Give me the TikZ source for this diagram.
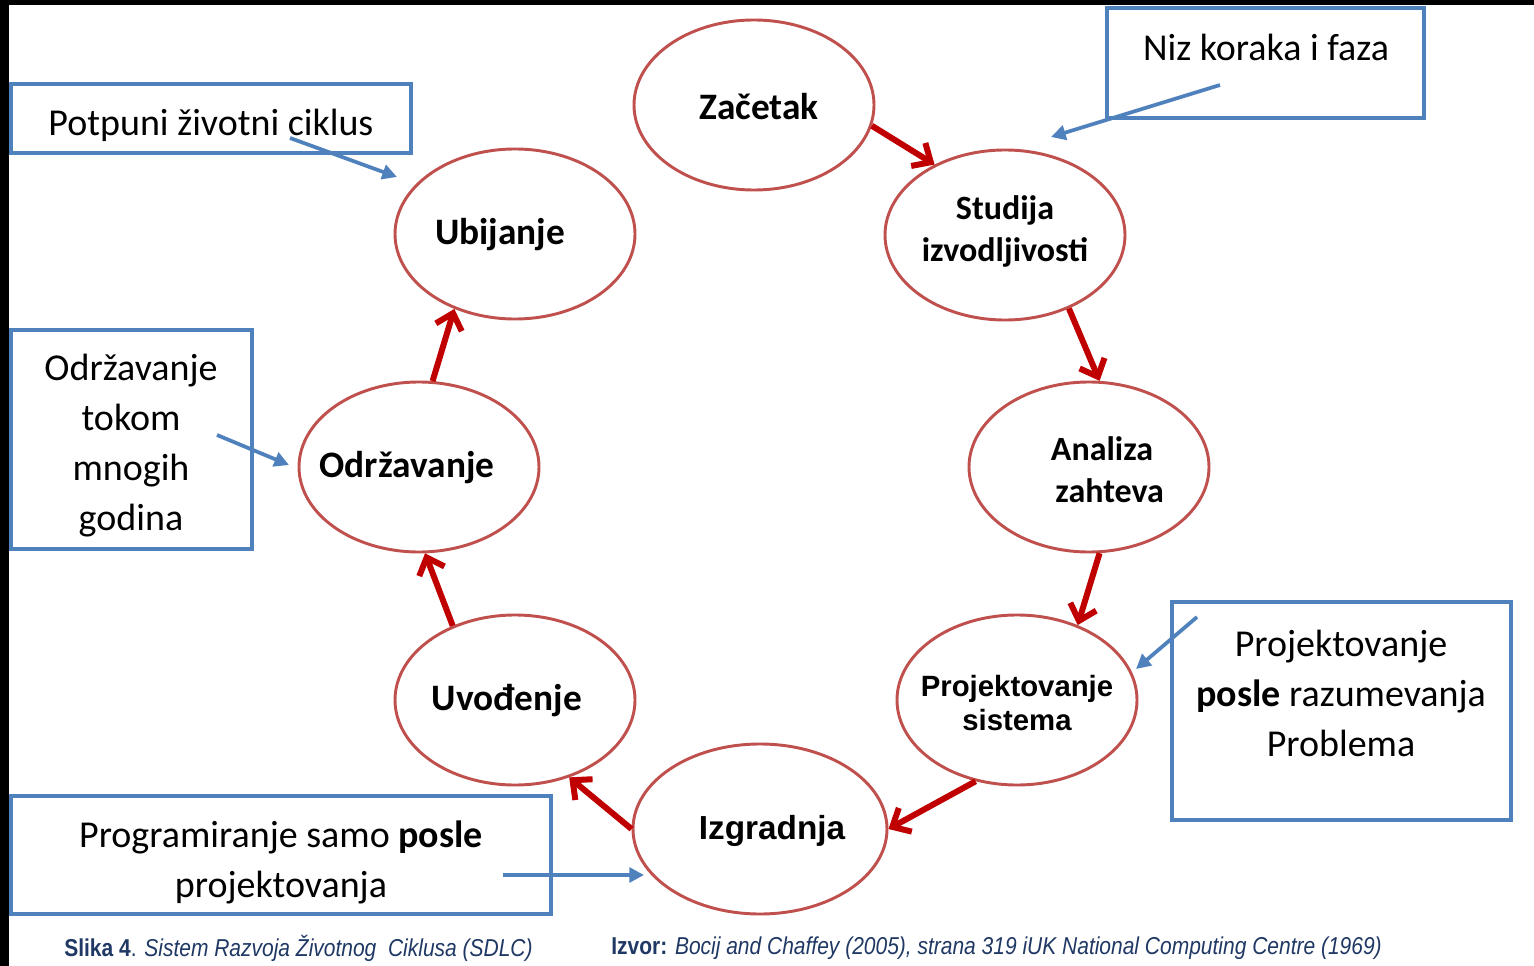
\documentclass[tikz,border=0pt]{standalone}
\usepackage{fontspec}
\setmainfont{Carlito}
\newfontfamily\arialfont{Liberation Sans}
\newfontfamily\capfont[FakeStretch=0.86]{Liberation Sans}
\usetikzlibrary{arrows.meta,shapes.geometric}
\definecolor{ellred}{HTML}{C0504D}
\definecolor{arrred}{HTML}{C00000}
\definecolor{boxblue}{HTML}{4F81BD}
\definecolor{capblue}{RGB}{31,56,100}
\begin{document}
\begin{tikzpicture}[x=0.75pt,y=-0.75pt,
  ell/.style={ellipse, draw=ellred, line width=2.2pt, fill=white, inner sep=0pt,
              minimum width=180pt, minimum height=127.5pt},
  etxt/.style={font=\fontsize{28}{30}\selectfont\bfseries, align=center, inner sep=0pt},
  etxttwo/.style={font=\fontsize{25.5}{31.5}\selectfont\bfseries, align=center, inner sep=0pt},
  atxt/.style={font=\arialfont\fontsize{22}{26}\selectfont\bfseries, align=center, inner sep=0pt},
  box/.style={draw=boxblue, line width=3pt, inner sep=0pt},
  btxt/.style={font=\fontsize{28.5}{37.5}\selectfont, align=center, inner sep=0pt},
  flow/.style={draw=arrred, line width=4.5pt, -{Straight Barb[angle=85:15pt]}},
  note/.style={draw=boxblue, line width=2.8pt, -{Triangle[length=11pt,width=11pt]}},
  captxt/.style={font=\capfont\fontsize{18.3}{20}\selectfont, text=capblue, inner sep=0pt, anchor=west}
]
\useasboundingbox (0,0) rectangle (1534,966);
\fill[white] (0,0) rectangle (1534,966);
\fill[black] (0,0) rectangle (9,966);
\fill[black] (0,0) rectangle (1534,5);

% blue boxes
\node[box, minimum width=300pt, minimum height=51.75pt] (b1) at (211,118.5) {};
\node[box, minimum width=237.75pt, minimum height=82.5pt] (b2) at (1265.5,63) {};
\node[box, minimum width=180.75pt, minimum height=164.25pt] (b3) at (131.5,439.5) {};
\node[box, minimum width=254.25pt, minimum height=163.5pt] (b4) at (1341.5,711) {};
\node[box, minimum width=405pt, minimum height=88.5pt] (b5) at (281,855) {};

\node[btxt] (t1) at (211,125) {Potpuni životni ciklus};
\node[btxt] (t2) at (1266,47) {Niz koraka i faza};
\node[btxt] (t3) at (131,446) {Održavanje\\tokom\\mnogih\\godina};
\node[btxt] (t4) at (1341,693) {Projektovanje\\\textbf{posle} razumevanja\\Problema};
\node[btxt] (t5) at (281,862) {Programiranje samo \textbf{posle}\\projektovanja};

% ellipses
\node[ell] (zac) at (754,105) {};
\node[ell] (stu) at (1005,235) {};
\node[ell] (ana) at (1089,467) {};
\node[ell] (pro) at (1017,700) {};
\node[ell, minimum width=190.5pt] (izg) at (760,829) {};
\node[ell] (uvo) at (515,700) {};
\node[ell] (odr) at (419,467) {};
\node[ell] (ubi) at (515,234) {};

\node[etxt] (lzac) at (759,107) {Začetak};
\node[etxttwo] (lstu) at (1005,231) {Studija\\izvodljivosti};
\node[etxttwo] (lana) at (1102,470) {Analiza\\\ \ zahteva};
\node[atxt] (lpro) at (1017,703) {Projektovanje\\sistema};
\node[atxt, font=\arialfont\fontsize{25}{28}\selectfont\bfseries] (lizg) at (772,831) {Izgradnja};
\node[etxt] (luvo) at (507,701) {Uvođenje};
\node[etxt] (lodr) at (407,468) {Održavanje};
\node[etxt] (lubi) at (500,235) {Ubijanje};

% red flow arrows
\draw[flow] (zac.-10) -- (stu.135);
\draw[flow] (stu.-49) -- (ana.83);
\draw[flow] (ana.-83) -- (pro.51);
\draw[flow] (pro.-117) -- (izg.0);
\draw[flow] (izg.180) -- (uvo.-55);
\draw[flow] (uvo.130) -- (odr.-86);
\draw[flow] (odr.81) -- (ubi.-129);

% blue note arrows
\coordinate (n1s) at (290,138);
\coordinate (n1e) at (397,177);
\coordinate (n2s) at (1220,85);
\coordinate (n2e) at (1051,137);
\coordinate (n3s) at (217,435);
\coordinate (n3e) at (289,465);
\coordinate (n4s) at (1197,617);
\coordinate (n4e) at (1136,669);
\coordinate (n5s) at (503,875);
\coordinate (n5e) at (644,875);
\draw[note] (n1s) -- (n1e);
\draw[note] (n2s) -- (n2e);
\draw[note] (n3s) -- (n3e);
\draw[note] (n4s) -- (n4e);
\draw[note] (n5s) -- (n5e);

% captions
\node[captxt] (c1) at (64,948) {\textbf{Slika 4}. \textit{Sistem Razvoja Životnog\ \ Ciklusa (SDLC)}};
\node[captxt] (c2) at (611,948) {\textbf{Izvor:} \textit{Bocij and Chaffey (2005), strana 319 iUK National Computing Centre (1969)}};
\end{tikzpicture}
\end{document}
